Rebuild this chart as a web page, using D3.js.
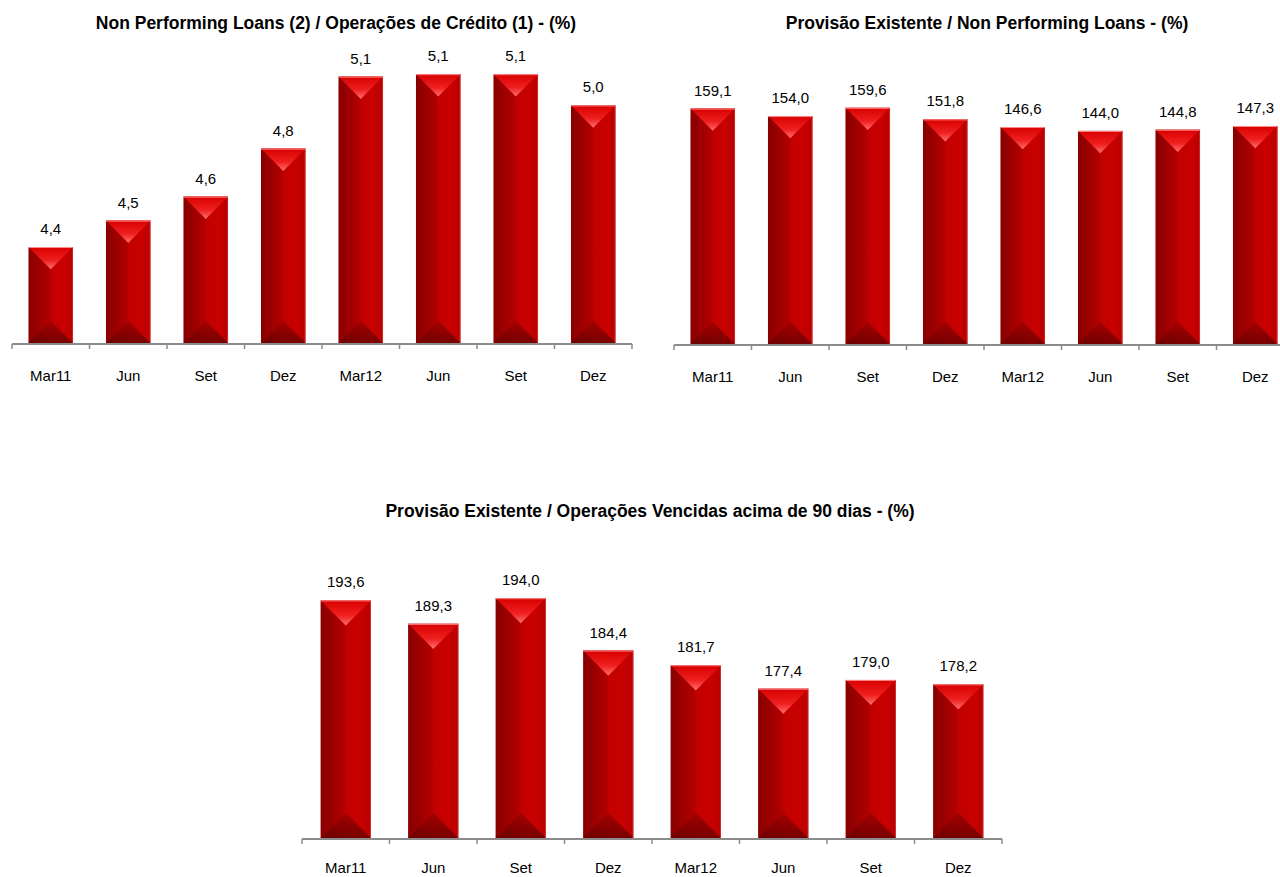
<!DOCTYPE html>
<html>
<head>
<meta charset="utf-8">
<script src="https://cdn.jsdelivr.net/npm/d3@7"></script>
<style>
  html, body { margin: 0; padding: 0; background: #fff; }
  svg { display: block; font-family: "Liberation Sans", Arial, sans-serif; }
</style>
</head>
<body>
<svg id="chart" width="1280" height="877"></svg>
<script>
// ---- data ----
const categories = ["Mar11", "Jun", "Set", "Dez", "Mar12", "Jun", "Set", "Dez"];
const nplValues = [4.40, 4.51, 4.61, 4.81, 5.11, 5.12, 5.12, 4.99];
const provNplValues = [159.1, 154.0, 159.6, 151.8, 146.6, 144.0, 144.8, 147.3];
const prov90Values = [193.6, 189.3, 194.0, 184.4, 181.7, 177.4, 179.0, 178.2];
const titles = [
  "Non Performing Loans (2) / Operações de Crédito (1) - (%)",
  "Provisão Existente / Non Performing Loans - (%)",
  "Provisão Existente / Operações Vencidas acima de 90 dias - (%)"
];

const svg = d3.select("#chart");
const fmt = v => d3.format(".1f")(v).replace(".", ",");

// ---- gradients ----
const defs = svg.append("defs");
function grad(id, horiz, stops) {
  const g = defs.append("linearGradient").attr("id", id)
    .attr("x1", 0).attr("y1", 0).attr("x2", horiz ? 1 : 0).attr("y2", horiz ? 0 : 1);
  stops.forEach(s => g.append("stop").attr("offset", s[0]).attr("stop-color", s[1]));
}
grad("body", true, [[0, "#880000"], [0.25, "#9e0000"], [0.49, "#b40000"], [0.5, "#c20000"], [0.8, "#c80000"], [1, "#b80000"]]);
grad("topTri", false, [[0, "#d80000"], [0.6, "#f02020"], [1, "#ff7070"]]);
grad("botTri", false, [[0, "#a00000"], [1, "#6a0000"]]);

const charts = [
  { title: titles[0], values: nplValues, xr: [12, 632], base: 343, domain: [4.0, 5.2], k: 240, titleX: 336, titleY: 29, pad: 27 },
  { title: titles[1], values: provNplValues, xr: [674, 1294], base: 344, domain: [0, 160], k: 1.48, titleX: 987, titleY: 29, pad: 27 },
  { title: titles[2], values: prov90Values, xr: [302, 1002], base: 838, domain: [150, 195], k: 5.45, titleX: 650, titleY: 517, pad: 24 }
];

charts.forEach((c, ci) => {
  const g = svg.append("g");
  const x = d3.scaleBand().domain(d3.range(categories.length)).range(c.xr)
    .paddingInner(0.425).paddingOuter(0.2125);
  const y = d3.scaleLinear().domain(c.domain).range([c.base, c.base - (c.domain[1] - c.domain[0]) * c.k]);

  // title
  g.append("text").attr("x", c.titleX).attr("y", c.titleY).attr("text-anchor", "middle")
    .attr("font-size", 17.5).attr("font-weight", "bold").attr("fill", "#000").text(c.title);

  // bars
  const bars = g.selectAll("g.bar").data(c.values).join("g").attr("class", "bar");
  bars.each(function(v, i) {
    const b = d3.select(this);
    const x0 = x(i), w = x.bandwidth(), top = y(v), bot = y(c.domain[0]);
    b.append("rect").attr("x", x0).attr("y", top).attr("width", w).attr("height", bot - top).attr("fill", "url(#body)");
    b.append("polygon").attr("points", [[x0, top], [x0 + w, top], [x0 + w / 2, top + w / 2]].map(p => p.join(",")).join(" "))
      .attr("fill", "url(#topTri)");
    b.append("polygon").attr("points", [[x0, bot], [x0 + w, bot], [x0 + w / 2, bot - w / 2]].map(p => p.join(",")).join(" "))
      .attr("fill", "url(#botTri)").attr("opacity", 0.85);
    b.append("line").attr("x1", x0).attr("x2", x0 + w).attr("y1", top + 0.5).attr("y2", top + 0.5)
      .attr("stroke", "#ff8a8a").attr("stroke-width", 1);
    b.append("line").attr("x1", x0 + w - 0.5).attr("x2", x0 + w - 0.5).attr("y1", top).attr("y2", bot)
      .attr("stroke", "#d84040").attr("stroke-width", 1).attr("opacity", 0.6);
    b.append("text").attr("x", x0 + w / 2).attr("y", top - 13).attr("text-anchor", "middle")
      .attr("font-size", 15).attr("fill", "#000").text(fmt(v));
  });

  // axis labels
  const axis = d3.axisBottom(x).tickSize(0).tickPadding(c.pad).tickFormat(i => categories[i]);
  const ag = g.append("g").attr("transform", `translate(0,${c.base})`).call(axis);
  ag.select(".domain").remove();
  ag.selectAll("text").attr("font-size", 15).attr("font-family", "Liberation Sans, Arial, sans-serif").attr("fill", "#000");

  // axis line and boundary ticks
  const r0 = x.range()[0];
  const bounds = d3.range(categories.length + 1).map(i => r0 + i * x.step());
  g.append("line").attr("x1", bounds[0]).attr("x2", bounds[bounds.length - 1])
    .attr("y1", c.base + 1).attr("y2", c.base + 1).attr("stroke", "#8c8c8c").attr("stroke-width", 2);
  g.selectAll("line.tk").data(bounds).join("line").attr("class", "tk")
    .attr("x1", d => d).attr("x2", d => d).attr("y1", c.base + 1).attr("y2", c.base + 6)
    .attr("stroke", "#8c8c8c").attr("stroke-width", 1.5);
});
</script>
</body>
</html>
